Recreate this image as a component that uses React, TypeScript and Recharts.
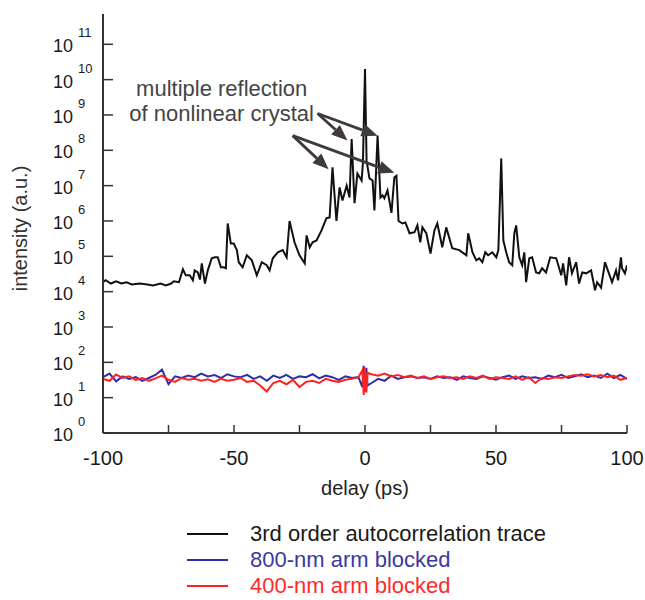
import React from "react"
import {
  LineChart,
  Line,
  XAxis,
  YAxis,
  ReferenceLine,
  ReferenceDot,
  Label,
} from "recharts"

const FONT = "'Liberation Sans', Arial, sans-serif"

// 3rd order autocorrelation trace (delay in ps, intensity in a.u.)
const traceDelay = [
  -100, -99, -97, -95, -93, -91, -89, -86, -83, -81, -78, -76, -74, -73, -71,
  -69.5, -68.4, -66.9, -65.7, -65, -63.8, -63, -62.3, -61.1, -60, -58.5, -57.3,
  -56.2, -55, -53.9, -53.1, -52.4, -51.2, -50.1, -48.9, -48.2, -46.7, -45.1,
  -43.2, -41.3, -39.4, -37.5, -36.4, -35.2, -33.3, -31.4, -29.9, -28.8, -26.9,
  -25, -23, -22.3, -21.1, -20, -18.5, -16.6, -14.7, -13.5, -12.4, -10.9, -9.7,
  -8.6, -7, -5.9, -5.1, -4, -2.9, -1.3, -0.8, 0, 0.6, 1.7, 2.9, 3.6, 4.8, 5.9,
  6.7, 7.4, 8.6, 10.1, 11.2, 12, 12.8, 14.3, 15.4, 17, 18.9, 20, 21.1, 21.9,
  23.4, 25, 26.5, 27.6, 29.5, 31, 33.3, 36, 38.7, 39.4, 41, 42.5, 43.6, 44.8,
  45.9, 47, 48.6, 50.1, 50.9, 52, 52.8, 53.9, 55, 56.2, 57, 57.7, 58.9, 60,
  60.8, 61.5, 62.7, 63.8, 65.3, 66.5, 67.6, 69.1, 70.7, 73, 74.9, 75.6, 76.8,
  77.9, 79, 80.6, 81.7, 82.9, 84.4, 86.3, 87.8, 88.6, 90.1, 91.6, 93.1, 94.3,
  95.8, 96.6, 97.7, 98.1, 99.2, 100,
]
const traceIntensity = [
  1.85e4, 2.1e4, 1.7e4, 1.96e4, 1.7e4, 1.85e4, 1.6e4, 1.7e4, 1.6e4, 1.5e4, 1.7e4,
  1.5e4, 1.7e4, 1.96e4, 1.85e4, 4.3e4, 2.9e4, 2.9e4, 2.1e4, 4.0e4, 3.5e4, 2.2e4,
  6.3e4, 1.7e4, 4.0e4, 8.8e4, 9.4e4, 9.4e4, 4.9e4, 4.9e4, 4.6e4, 8.5e5, 2.3e5,
  2.3e5, 1.5e5, 6.8e4, 4.9e4, 1.07e5, 7.7e4, 2.9e4, 6.8e4, 5.6e4, 4.0e4, 8.8e4,
  1.3e5, 1.5e5, 9.4e4, 1.0e6, 2.5e5, 1.07e5, 6.3e4, 3.9e5, 1.8e5, 2.5e5, 2.8e5,
  5.4e5, 1.2e6, 1.26e6, 3.3e7, 1.0e6, 8.9e6, 3.8e6, 1.0e7, 4.6e6, 2.1e8, 3.2e6,
  2.2e7, 1.4e7, 4.3e7, 2.0e10, 5.1e7, 1.6e7, 1.4e7, 2.0e6, 2.6e8, 4.6e6, 5.3e6,
  4.4e6, 7.3e6, 1.7e6, 1.7e7, 1.9e7, 1.0e6, 8.5e5, 9.1e5, 4.5e5, 4.8e5, 7.5e5,
  2.5e5, 6.6e5, 4.5e5, 1.2e5, 5.4e5, 8.5e5, 1.8e5, 6.6e5, 1.7e5, 1.5e5, 1.07e5,
  4.5e5, 1.3e5, 7.7e4, 8.8e4, 6.8e4, 1.3e5, 1.07e5, 1.3e5, 9.4e4, 1.5e5, 5.9e7,
  2.8e5, 1.3e5, 6.8e4, 5.6e4, 4.5e5, 7.5e5, 9.4e4, 5.6e4, 1.3e5, 1.85e4, 8.8e4,
  9.4e4, 3.5e4, 3.3e4, 4.6e4, 3.5e4, 9.4e4, 8.8e4, 2.9e4, 6.3e4, 1.5e4, 9.4e4,
  3.3e4, 6.8e4, 1.7e4, 3.5e4, 3.3e4, 4.0e4, 1.1e4, 1.85e4, 1.3e4, 6.8e4, 3.3e4,
  1.85e4, 4.0e4, 2.1e4, 9.4e4, 4.6e4, 3.3e4, 5.6e4,
]

// background traces with one arm blocked
const armDelay = [
  -100, -97.5, -95, -92.5, -90, -87.5, -85, -82.5, -80, -77.5, -75, -72.5, -70,
  -67.5, -65, -62.5, -60, -57.5, -55, -52.5, -50, -47.5, -45, -42.5, -40, -37.5,
  -35, -32.5, -30, -27.5, -25, -22.5, -20, -17.5, -15, -12.5, -10, -7.5, -5,
  -2.5, -1, -0.5, 0, 0.5, 1, 2.5, 5, 7.5, 10, 12.5, 15, 17.5, 20, 22.5, 25, 27.5,
  30, 32.5, 35, 37.5, 40, 42.5, 45, 47.5, 50, 52.5, 55, 57.5, 60, 62.5, 65, 67.5,
  70, 72.5, 75, 77.5, 80, 82.5, 85, 87.5, 90, 92.5, 95, 97.5, 100,
]
const blocked800 = [
  38, 48, 29, 40, 34, 38, 30, 36, 44, 62, 24, 40, 36, 42, 38, 48, 40, 44, 36, 46,
  40, 38, 44, 34, 40, 30, 42, 36, 44, 34, 40, 38, 46, 35, 42, 38, 32, 40, 36, 38,
  20, 80, 15, 70, 22, 26, 34, 30, 42, 34, 38, 40, 36, 38, 34, 40, 36, 38, 32, 40,
  36, 34, 40, 36, 32, 38, 42, 34, 40, 36, 38, 34, 42, 38, 44, 36, 40, 46, 38, 42,
  36, 48, 36, 44, 34,
]
const blocked400 = [
  34, 30, 45, 36, 40, 32, 36, 30, 35, 42, 32, 28, 36, 32, 34, 30, 33, 28, 34, 30,
  32, 36, 28, 30, 22, 15, 26, 30, 24, 32, 20, 28, 30, 26, 34, 30, 28, 32, 34, 38,
  60, 12, 70, 14, 50, 46, 42, 48, 40, 44, 38, 42, 36, 40, 34, 38, 40, 36, 38, 34,
  40, 36, 42, 34, 38, 36, 34, 40, 32, 38, 26, 36, 34, 38, 36, 40, 44, 42, 46, 40,
  44, 38, 42, 32, 36,
]

const xTicks = [-100, -75, -50, -25, 0, 25, 50, 75, 100]
const yTicks = [1, 10, 1e2, 1e3, 1e4, 1e5, 1e6, 1e7, 1e8, 1e9, 1e10, 1e11]

const series = [
  { name: "3rd order autocorrelation trace", color: "#111111", text: "#1a1a1a" },
  { name: "800-nm arm blocked", color: "#2e2ea6", text: "#3a3a9e" },
  { name: "400-nm arm blocked", color: "#ff2222", text: "#ff2a2a" },
]

const zip = (xs: number[], ys: number[]) => xs.map((x, i) => ({ x, v: ys[i] }))
const traceData = zip(traceDelay, traceIntensity)
const data800 = zip(armDelay, blocked800)
const data400 = zip(armDelay, blocked400)

const XTick = ({ x, y, payload }: any) => {
  if (payload.value % 50 !== 0) return <g />
  return (
    <text x={x} y={y + 32} textAnchor="middle" fontSize={20} fill="#1a1a1a" fontFamily={FONT}>
      {payload.value}
    </text>
  )
}

const YTick = ({ x, y, payload }: any) => {
  const exp = Math.round(Math.log10(payload.value))
  return (
    <g fontFamily={FONT} fill="#1a1a1a">
      <text x={x - 30} y={y + 8} textAnchor="end" fontSize={18}>10</text>
      <text x={x - 25} y={y - 7} textAnchor="start" fontSize={13}>{exp}</text>
    </g>
  )
}

const Arrow = ({ x1, y1, x2, y2 }: any) => {
  const ang = Math.atan2(y2 - y1, x2 - x1)
  const len = 16
  const half = 6.5
  const bx = x2 - len * Math.cos(ang)
  const by = y2 - len * Math.sin(ang)
  const px = -Math.sin(ang) * half
  const py = Math.cos(ang) * half
  return (
    <g>
      <line x1={x1} y1={y1} x2={bx} y2={by} stroke="#403a3a" strokeWidth={2.8} />
      <polygon points={`${x2},${y2} ${bx + px},${by + py} ${bx - px},${by - py}`} fill="#403a3a" />
    </g>
  )
}

const noteText = (txt: string) => ({ cx, cy }: any) => (
  <text x={cx} y={cy + 7} textAnchor="middle" fontSize={22} fill="#444" fontFamily={FONT}>
    {txt}
  </text>
)

const arrows = [
  [{ x: -18.1, y: 1.1e9 }, { x: -6.7, y: 1.9e8 }],
  [{ x: -18.1, y: 1.1e9 }, { x: 4.8, y: 2.6e8 }],
  [{ x: -27.6, y: 2.6e8 }, { x: -13.9, y: 2.9e7 }],
  [{ x: -27.6, y: 2.6e8 }, { x: 11.2, y: 2.3e7 }],
]

export default function App() {
  return (
    <div style={{ position: "absolute", left: 0, top: 0, width: 645, height: 600, fontFamily: FONT }}>
      <LineChart width={645} height={600} margin={{ top: 14, right: 18, left: 23, bottom: 137 }}>
        <XAxis
          dataKey="x"
          type="number"
          domain={[-100, 100]}
          ticks={xTicks}
          tick={<XTick />}
          tickSize={-8}
          tickMargin={8}
          height={30}
          axisLine={{ stroke: "#333", strokeWidth: 2 }}
          tickLine={{ stroke: "#333", strokeWidth: 1.5 }}
          allowDataOverflow
        >
          <Label
            content={({ viewBox }: any) => (
              <text
                x={viewBox.x + viewBox.width / 2}
                y={viewBox.y + 62}
                textAnchor="middle"
                fontSize={20}
                fill="#222"
                fontFamily={FONT}
              >
                delay (ps)
              </text>
            )}
          />
        </XAxis>
        <XAxis
          xAxisId="top"
          orientation="top"
          type="number"
          domain={[-100, 100]}
          ticks={xTicks}
          tick={false}
          tickSize={-8}
          height={0}
          axisLine={{ stroke: "#333", strokeWidth: 2 }}
          tickLine={{ stroke: "#333", strokeWidth: 1.5 }}
          allowDataOverflow
        />
        <YAxis
          type="number"
          scale="log"
          domain={[1, 7.2e11]}
          ticks={yTicks}
          tick={<YTick />}
          tickSize={-10}
          tickMargin={10}
          width={80}
          interval={0}
          axisLine={{ stroke: "#333", strokeWidth: 2 }}
          tickLine={{ stroke: "#333", strokeWidth: 1.5 }}
          allowDataOverflow
        >
          <Label
            content={({ viewBox }: any) => {
              const cx = viewBox.x - 3
              const cy = viewBox.y + viewBox.height / 2 + 5
              return (
                <text
                  x={cx}
                  y={cy}
                  transform={`rotate(-90 ${cx} ${cy})`}
                  textAnchor="middle"
                  dominantBaseline="central"
                  fontSize={20}
                  fill="#333"
                  fontFamily={FONT}
                >
                  intensity (a.u.)
                </text>
              )
            }}
          />
        </YAxis>
        <YAxis
          yAxisId="r"
          orientation="right"
          type="number"
          scale="log"
          domain={[1, 7.2e11]}
          ticks={yTicks}
          tick={false}
          tickSize={-10}
          width={0}
          interval={0}
          axisLine={{ stroke: "#333", strokeWidth: 2 }}
          tickLine={{ stroke: "#333", strokeWidth: 1.5 }}
          allowDataOverflow
        />
        <Line data={data800} dataKey="v" type="linear" dot={false} stroke={series[1].color} strokeWidth={2} isAnimationActive={false} />
        <Line data={data400} dataKey="v" type="linear" dot={false} stroke={series[2].color} strokeWidth={2} isAnimationActive={false} />
        <Line data={traceData} dataKey="v" type="linear" dot={false} stroke={series[0].color} strokeWidth={2} isAnimationActive={false} />
        {arrows.map((seg, i) => (
          <ReferenceLine key={i} segment={seg} shape={<Arrow />} ifOverflow="visible" />
        ))}
        <ReferenceDot x={-54.7} y={5.6e9} r={0} shape={noteText("multiple reflection")} ifOverflow="visible" />
        <ReferenceDot x={-54.7} y={1.1e9} r={0} shape={noteText("of nonlinear crystal")} ifOverflow="visible" />
      </LineChart>
      {series.map((s, i) => (
        <div
          key={s.name}
          style={{ position: "absolute", left: 187, top: 534 + i * 26 - 12, height: 24, display: "flex", alignItems: "center" }}
        >
          <div style={{ width: 41, height: 2, background: s.color }} />
          <span style={{ marginLeft: 22, fontSize: 22, lineHeight: "24px", color: s.text, fontFamily: FONT, whiteSpace: "nowrap" }}>
            {s.name}
          </span>
        </div>
      ))}
    </div>
  )
}
